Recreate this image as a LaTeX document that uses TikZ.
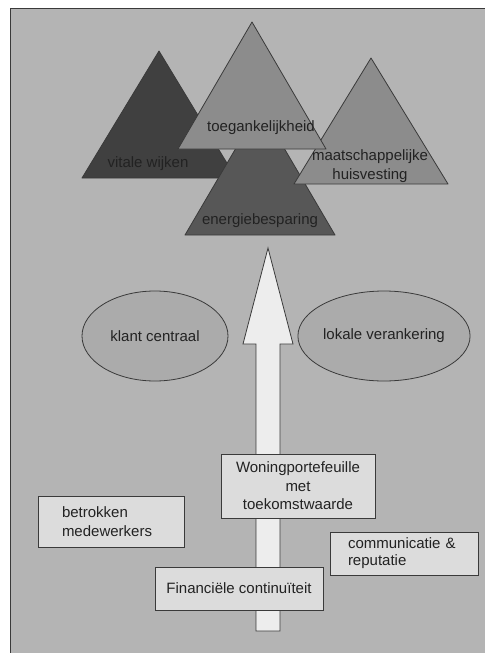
\documentclass[tikz,border=0pt]{standalone}
\usepackage{fontspec}
\setmainfont{Liberation Sans}
\usetikzlibrary{shapes.geometric}
\definecolor{bg}{HTML}{B4B4B4}
\definecolor{darktri}{HTML}{404040}
\definecolor{midtri}{HTML}{575757}
\definecolor{lighttri}{HTML}{8C8C8C}
\definecolor{ovalfill}{HTML}{ABABAB}
\definecolor{boxfill}{HTML}{DCDCDC}
\definecolor{arrowfill}{HTML}{EDEDED}
\definecolor{ink}{HTML}{222222}
\definecolor{edge}{HTML}{3A3A3A}
\tikzset{
  txt/.style={font=\fontsize{15}{18.5}\selectfont},
  tri/.style={draw=edge, line width=0.8pt, line join=round},
  lbl/.style={text=ink, txt, inner sep=0pt},
  oval/.style={ellipse, draw=edge, fill=ovalfill, line width=0.8pt,
    minimum width=146pt, minimum height=90pt, inner sep=0pt,
    text=ink, txt},
  card/.style={draw=edge, fill=boxfill, line width=0.8pt, inner sep=0pt,
    text=ink, txt},
}
\begin{document}
\begin{tikzpicture}[x=1pt,y=-1pt]
  \useasboundingbox (0,0) rectangle (485,653);
  \fill[white] (0,0) rectangle (485,653);
  \fill[bg] (10,8) rectangle (485,653);
  \draw[edge, line width=1pt] (10,653) -- (10,8) -- (485,8);

  % overlapping triangles
  \filldraw[tri, fill=darktri] (159,51) -- (236,178) -- (82,178) -- cycle;
  \filldraw[tri, fill=midtri] (260,107) -- (335,235) -- (185,235) -- cycle;
  \filldraw[tri, fill=lighttri] (371,58) -- (448,184) -- (294,184) -- cycle;
  \filldraw[tri, fill=lighttri] (252,22) -- (326,149) -- (178,149) -- cycle;

  \node[lbl] (vw) at (148,164) {vitale wijken};
  \node[lbl] (eb) at (260,221) {energiebesparing};
  \node[lbl, align=center] (mh) at (370,166) {maatschappelijke\\huisvesting};
  \node[lbl] (tg) at (261,128) {toegankelijkheid};

  % upward arrow
  \filldraw[draw=edge, fill=arrowfill, line width=0.8pt, line join=miter]
    (256,631) -- (256,344) -- (243,344) -- (268,248) -- (293,344)
    -- (280,344) -- (280,631) -- cycle;

  % ovals
  \node[oval] (kc) at (155,336) {klant centraal};
  \node[oval, minimum width=152pt] (lv) at (384,336) {lokale verankering};

  % boxes
  \node[card, minimum width=154pt, minimum height=64pt, align=center] (wp) at (298,486)
    {Woningportefeuille\\met\\toekomstwaarde};
  \node[card, minimum width=146pt, minimum height=51pt, align=left,
        text width=98pt] (bm) at (111,521.5) {betrokken\\medewerkers};
  \node[card, minimum width=148pt, minimum height=43pt, align=left,
        text width=112pt, font=\fontsize{15}{17}\selectfont] (cr) at (404,553.5)
        {communicatie \&\\reputatie};
  \node[card, minimum width=168pt, minimum height=43pt] (fc) at (239,588.5)
    {Financiële continuïteit};
\end{tikzpicture}
\end{document}
